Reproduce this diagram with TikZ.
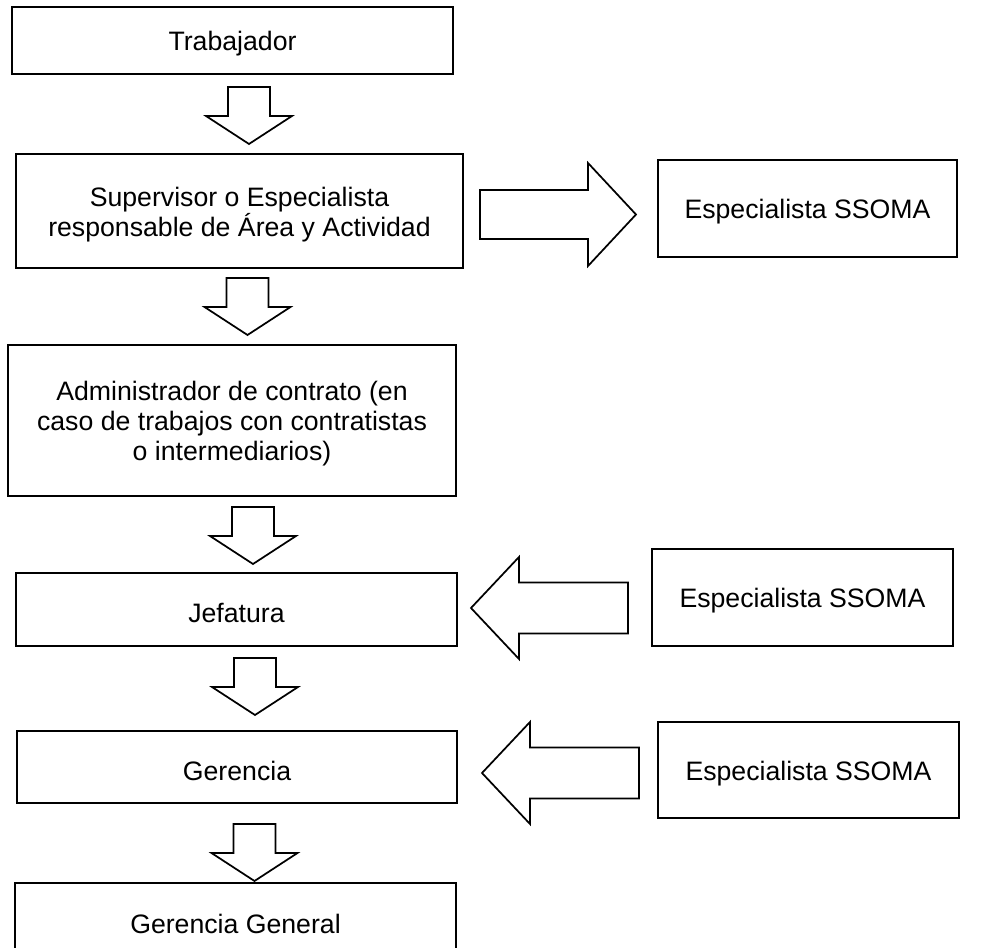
\documentclass[tikz,border=0pt]{standalone}
\usepackage{fontspec}
\setmainfont{Liberation Sans}
\begin{document}
\begin{tikzpicture}[x=0.75pt,y=-0.75pt,
  box/.style={draw,line width=1.5pt,fill=white,inner sep=0pt},
  txt/.style={align=center,inner sep=0pt,yshift=-2.6pt,
    font=\fontsize{20}{22.5}\selectfont},
  blk/.style={draw,line width=1.3pt,line join=miter,fill=white},
  darr/.pic={\draw[blk] (-21,0) -- (21,0) -- (21,29) -- (43,29) -- (0,57) -- (-43,29) -- (-21,29) -- cycle;},
  rarr/.pic={\draw[blk] (0,-24.5) -- (108,-24.5) -- (108,-51.5) -- (156,0) -- (108,51.5) -- (108,24.5) -- (0,24.5) -- cycle;},
  larr/.pic={\draw[blk] (0,0) -- (48,-51) -- (48,-25.5) -- (157,-25.5) -- (157,25.5) -- (48,25.5) -- (48,51) -- cycle;}
]
\useasboundingbox (0,0) rectangle (988,948);
\clip (0,0) rectangle (988,948);
\fill[white] (0,0) rectangle (988,948);

% main column boxes
\node[box,minimum width=330.75pt,minimum height=50.25pt] (trab) at (232.5,40.5) {};
\node[box,minimum width=335.25pt,minimum height=85.5pt] (sup) at (239.5,211) {};
\node[box,minimum width=336pt,minimum height=113.25pt] (adm) at (232,420.5) {};
\node[box,minimum width=330.75pt,minimum height=54.75pt] (jef) at (236.5,609.5) {};
\node[box,minimum width=330pt,minimum height=54pt] (ger) at (237,767) {};
\node[box,minimum width=330.75pt,minimum height=55.5pt] (gg) at (235.5,920) {};

% side boxes
\node[box,minimum width=224.25pt,minimum height=72.75pt] (ss1) at (807.5,208.5) {};
\node[box,minimum width=225.75pt,minimum height=72.75pt] (ss2) at (802.5,597.5) {};
\node[box,minimum width=225.75pt,minimum height=72pt] (ss3) at (808.5,770) {};

% texts
\node[txt] (trabt) at (trab) {Trabajador};
\node[txt] (supt) at (sup) {Supervisor o Especialista\\responsable de Área y Actividad};
\node[txt] (admt) at (adm) {Administrador de contrato (en\\caso de trabajos con contratistas\\o intermediarios)};
\node[txt] (jeft) at (jef) {Jefatura};
\node[txt] (gert) at (ger) {Gerencia};
\node[txt] (ggt) at (gg) {Gerencia General};
\node[txt] (ss1t) at (ss1) {Especialista SSOMA};
\node[txt] (ss2t) at (ss2) {Especialista SSOMA};
\node[txt] (ss3t) at (ss3) {Especialista SSOMA};

% block arrows
\pic at (249,87) {darr};
\pic at (247.5,278) {darr};
\pic at (253,507) {darr};
\pic at (255,658) {darr};
\pic at (254.5,824) {darr};
\pic at (480,214.5) {rarr};
\pic at (471,608) {larr};
\pic at (482,773) {larr};
\end{tikzpicture}
\end{document}
